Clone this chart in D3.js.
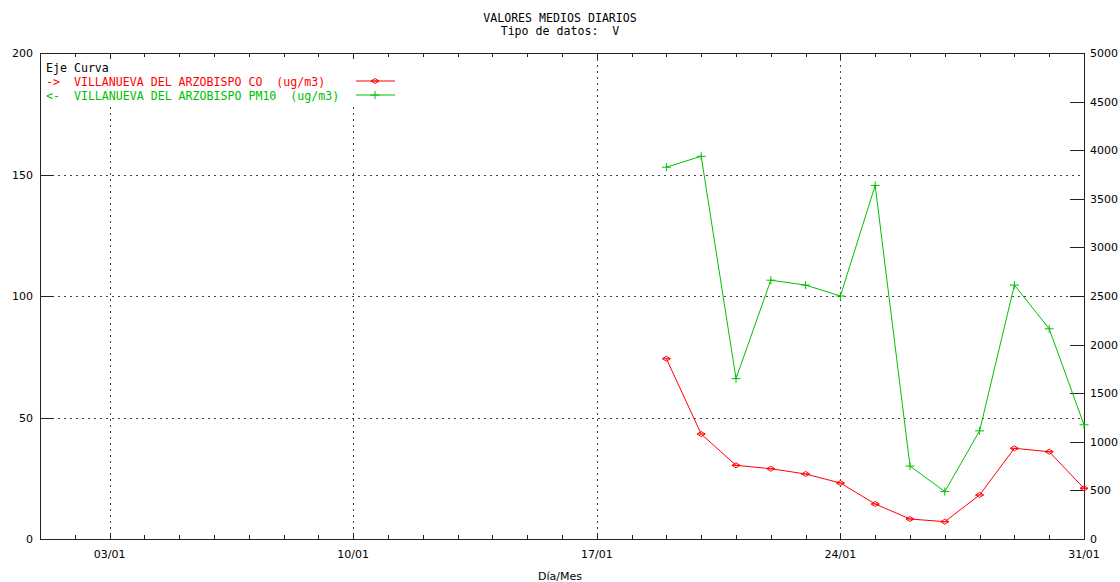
<!DOCTYPE html>
<html><head><meta charset="utf-8">
<script src="https://cdn.jsdelivr.net/npm/d3@7"></script>
<style>body{margin:0;background:#fff}svg{display:block}</style>
</head><body>
<svg id="c" width="1120" height="582"></svg>
<script>
const days = [19,20,21,22,23,24,25,26,27,28,29,30,31];
const pm10 = [153,157.5,66,106.5,104.5,100,145.5,30,19.5,44.5,104.5,86.5,47];
const co = [1855,1080,758,723,669,576,360,206,178,453,933,898,521];
const xMajor = [3,10,17,24,31];
const xMajorLabels = ["03/01","10/01","17/01","24/01","31/01"];
const leftTicks = [0,50,100,150,200];
const rightTicks = [0,500,1000,1500,2000,2500,3000,3500,4000,4500,5000];
const titleLines = ["VALORES MEDIOS DIARIOS","Tipo de datos:  V"];
const legendHeader = "Eje Curva";
const seriesNames = ["->  VILLANUEVA DEL ARZOBISPO CO  (ug/m3)","<-  VILLANUEVA DEL ARZOBISPO PM10  (ug/m3)"];
const xLabel = "Día/Mes";

const svg = d3.select("#c");
const L=40, R=1084, T=53, B=539;
const x = d3.scaleLinear().domain([1,31]).range([L,R]);
const yL = d3.scaleLinear().domain([0,200]).range([B,T]);
const yR = d3.scaleLinear().domain([0,5000]).range([B,T]);
const RED="#ff0000", GREEN="#00c000", AX="#222";
const sans="'DejaVu Sans', sans-serif", mono="'DejaVu Sans Mono', monospace";
const px = v => Math.round(v)+0.5;

// grid
const g = svg.append("g").attr("stroke","#444").attr("stroke-dasharray","2,4").attr("shape-rendering","crispEdges");
[50,100,150].forEach(v=>g.append("line").attr("x1",L).attr("x2",R).attr("y1",px(yL(v))).attr("y2",px(yL(v))));
[3,10,17,24].forEach(v=>g.append("line").attr("y1",T).attr("y2",B).attr("x1",px(x(v))).attr("x2",px(x(v))));

// legend background (hides grid behind legend)
svg.append("rect").attr("x",L+1).attr("y",T+1).attr("width",360).attr("height",50).attr("fill","#fff");

// frame
svg.append("rect").attr("x",L+0.5).attr("y",T+0.5).attr("width",R-L).attr("height",B-T)
  .attr("fill","none").attr("stroke",AX).attr("shape-rendering","crispEdges");

// ticks
const t = svg.append("g").attr("stroke",AX).attr("shape-rendering","crispEdges");
d3.range(1,32).forEach(d=>{
  const len = xMajor.includes(d)?6:4;
  t.append("line").attr("x1",px(x(d))).attr("x2",px(x(d))).attr("y1",B).attr("y2",B-len);
  t.append("line").attr("x1",px(x(d))).attr("x2",px(x(d))).attr("y1",T).attr("y2",T+len);
});
leftTicks.forEach(v=>t.append("line").attr("x1",L).attr("x2",L+14).attr("y1",px(yL(v))).attr("y2",px(yL(v))));
rightTicks.forEach(v=>t.append("line").attr("x1",R-14).attr("x2",R).attr("y1",px(yR(v))).attr("y2",px(yR(v))));

// tick labels
const tl = svg.append("g").attr("font-family",sans).attr("font-size","11px").attr("fill","#000");
leftTicks.forEach(v=>tl.append("text").attr("x",33).attr("y",yL(v)+4).attr("text-anchor","end").text(v));
rightTicks.forEach(v=>tl.append("text").attr("x",1090).attr("y",yR(v)+4).attr("text-anchor","start").text(v));
xMajor.forEach((d,i)=>tl.append("text").attr("x",x(d)).attr("y",558).attr("text-anchor","middle").text(xMajorLabels[i]));
tl.append("text").attr("x",560).attr("y",580).attr("text-anchor","middle").text(xLabel);

// title
const tt = svg.append("g").attr("font-family",mono).attr("font-size","11.6px").attr("fill","#000").attr("text-anchor","middle");
titleLines.forEach((s,i)=>tt.append("text").attr("x",560).attr("y",22+i*13).attr("xml:space","preserve").text(s));

// series
const lineL = d3.line().x((d,i)=>x(days[i])).y(d=>yL(d));
const lineR = d3.line().x((d,i)=>x(days[i])).y(d=>yR(d));
svg.append("path").attr("d",lineR(co)).attr("fill","none").attr("stroke",RED).attr("stroke-width",1);
svg.append("path").attr("d",lineL(pm10)).attr("fill","none").attr("stroke",GREEN).attr("stroke-width",1);

function diamond(sel,cx,cy){
  sel.append("path").attr("d",`M${cx-4},${cy}L${cx},${cy-2.5}L${cx+4},${cy}L${cx},${cy+2.5}Z M${cx-4},${cy}L${cx+4},${cy}`)
    .attr("fill","none").attr("stroke",RED).attr("stroke-width",1);
}
function plus(sel,cx,cy){
  sel.append("path").attr("d",`M${cx-4.5},${cy}L${cx+4.5},${cy} M${cx},${cy-4}L${cx},${cy+4}`)
    .attr("fill","none").attr("stroke",GREEN).attr("stroke-width",1);
}
const mk = svg.append("g");
co.forEach((v,i)=>diamond(mk,x(days[i]),yR(v)));
pm10.forEach((v,i)=>plus(mk,x(days[i]),yL(v)));

// legend
const lg = svg.append("g").attr("font-family",mono).attr("font-size","11.6px");
lg.append("text").attr("x",46).attr("y",72).attr("fill","#000").text(legendHeader);
lg.append("text").attr("x",46).attr("y",86).attr("fill",RED).attr("xml:space","preserve").text(seriesNames[0]);
lg.append("text").attr("x",46).attr("y",100).attr("fill",GREEN).attr("xml:space","preserve").text(seriesNames[1]);
lg.append("line").attr("x1",356).attr("x2",395).attr("y1",81).attr("y2",81).attr("stroke",RED);
diamond(lg,375,81);
lg.append("line").attr("x1",356).attr("x2",395).attr("y1",95).attr("y2",95).attr("stroke",GREEN);
plus(lg,375,95);
</script>
</body></html>
